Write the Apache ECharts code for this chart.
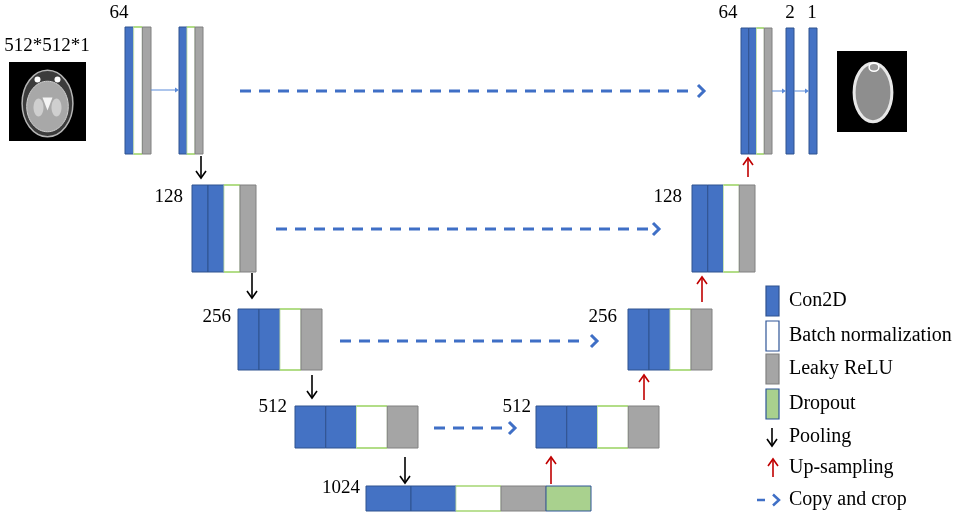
<!DOCTYPE html>
<html>
<head>
<meta charset="utf-8" />
<title>U-Net</title>
<script src="https://cdn.jsdelivr.net/npm/echarts@6/dist/echarts.min.js"></script>
<style>
html, body { margin: 0; padding: 0; background: #fff; }
#unet { width: 957px; height: 514px; }
</style>
</head>
<body>
<div id="unet"></div>
<script>
// ---- layers along the U (axis units = picture pixels) ----
var layerParts = [
	['conv', 'bn', 'relu'], ['conv', 'bn', 'relu'],
	['conv', 'conv', 'bn', 'relu'], ['conv', 'conv', 'bn', 'relu'], ['conv', 'conv', 'bn', 'relu'],
	['conv', 'conv', 'bn', 'relu', 'drop'],
	['conv', 'conv', 'bn', 'relu'], ['conv', 'conv', 'bn', 'relu'], ['conv', 'conv', 'bn', 'relu'],
	['conv', 'conv', 'bn', 'relu'],
	['conv'], ['conv']
];
var layerLeft   = [125, 179, 192, 238, 295, 366, 536, 628, 692, 741, 786, 809];
var layerRight  = [151, 203, 256, 322, 418, 591, 659, 712, 755, 772, 794, 817];
var layerTop    = [27, 27, 185, 309, 406, 486, 406, 309, 185, 28, 28, 28];
var layerBottom = [154, 154, 272, 370, 448, 511, 448, 370, 272, 154, 154, 154];

// ---- channel labels ----
var labelText  = ['512*512*1', '64', '128', '256', '512', '1024', '512', '256', '128', '64', '2', '1'];
var labelX     = [47, 119, 183, 231, 287, 360, 531, 617, 682, 728, 790, 812];
var labelY     = [46, 13, 197, 317, 407, 488, 407, 317, 197, 13, 13, 13];
var labelAlign = ['center', 'center', 'right', 'right', 'right', 'right', 'right', 'right', 'right', 'center', 'center', 'center'];

// ---- arrows ----
var arrowKind = ['pass', 'pool', 'pool', 'pool', 'pool',
	'up', 'up', 'up', 'up',
	'copy', 'copy', 'copy', 'copy',
	'pass', 'pass'];
var arrowX0 = [151, 201, 252, 312, 405, 551, 644, 702, 748, 240, 276, 340, 434, 772, 794];
var arrowY0 = [90, 156, 273, 375, 457, 484, 400, 302, 177, 91, 229, 341, 428, 91, 91];
var arrowX1 = [179, 201, 252, 312, 405, 551, 644, 702, 748, 704, 659, 597, 515, 786, 809];
var arrowY1 = [90, 178, 298, 398, 483, 457, 375, 277, 158, 91, 229, 341, 428, 91, 91];

// ---- input / output slices ----
var sliceName = ['mri', 'ct'];
var sliceX0 = [9, 837];
var sliceX1 = [86, 907];
var sliceY0 = [62, 51];
var sliceY1 = [141, 132];

// ---- legend ----
var legendText = ['Con2D', 'Batch normalization', 'Leaky ReLU', 'Dropout', 'Pooling', 'Up-sampling', 'Copy and crop'];
var legendMark = ['conv', 'bnKey', 'relu', 'drop', 'pool', 'up', 'copy'];
var legendY    = [301, 336, 369, 404, 437, 468, 500];

var FONT = 'Liberation Serif, Times New Roman, serif';

var partStyle = {
	conv:  { fill: '#4472C4', stroke: '#2F528F' },
	bn:    { fill: '#FFFFFF', stroke: '#92D050' },
	relu:  { fill: '#A5A5A5', stroke: '#808080' },
	drop:  { fill: '#A9D18E', stroke: '#2F5597' },
	bnKey: { fill: '#FFFFFF', stroke: '#2F5597' }
};
var arrowStyle = {
	pool: { color: '#000000', width: 1.6, dash: null, head: 7, half: 5, filled: false },
	up:   { color: '#C00000', width: 1.6, dash: null, head: 7, half: 5, filled: false },
	copy: { color: '#3F6FC6', width: 3, dash: [11, 8], head: 6, half: 6, filled: false },
	pass: { color: '#5B8BD9', width: 1, dash: null, head: 4, half: 2.5, filled: true }
};

// parts data: one rect per component
var partData = [];
layerParts.forEach(function (parts, i) {
	var w = (layerRight[i] - layerLeft[i]) / parts.length;
	parts.forEach(function (p, j) {
		partData.push([layerLeft[i] + j * w, layerLeft[i] + (j + 1) * w, layerTop[i], layerBottom[i], i, j]);
	});
});

function arrowShape(a, b, st) {
	var dx = b[0] - a[0], dy = b[1] - a[1];
	var len = Math.sqrt(dx * dx + dy * dy);
	var ux = dx / len, uy = dy / len, px = -uy, py = ux;
	var back = [b[0] - ux * st.head, b[1] - uy * st.head];
	var end = st.filled ? back : (st.dash ? [b[0] - ux * (st.head + 4), b[1] - uy * (st.head + 4)] : [b[0] - ux, b[1] - uy]);
	var kids = [{
		type: 'line',
		shape: { x1: a[0], y1: a[1], x2: end[0], y2: end[1] },
		style: { stroke: st.color, lineWidth: st.width, lineDash: st.dash }
	}];
	var pts = [[back[0] + px * st.half, back[1] + py * st.half], b, [back[0] - px * st.half, back[1] - py * st.half]];
	if (st.filled) {
		kids.push({ type: 'polygon', shape: { points: pts }, style: { fill: st.color } });
	} else {
		kids.push({ type: 'polyline', shape: { points: pts }, style: { stroke: st.color, lineWidth: st.width, fill: null } });
	}
	return kids;
}

var myChart = echarts.init(document.getElementById('unet'), null, { renderer: 'canvas' });
var option = {
	animation: false,
	backgroundColor: '#ffffff',
	grid: { left: 0, right: 0, top: 0, bottom: 0 },
	xAxis: { type: 'value', min: 0, max: 957, show: false },
	yAxis: { type: 'value', min: 0, max: 514, inverse: true, show: false },
	series: [
		{
			// network blocks
			type: 'custom',
			data: partData,
			renderItem: function (params, api) {
				var p0 = api.coord([api.value(0), api.value(2)]);
				var p1 = api.coord([api.value(1), api.value(3)]);
				var kind = layerParts[api.value(4)][api.value(5)];
				var s = partStyle[kind];
				var w = p1[0] - p0[0], h = p1[1] - p0[1];
				if (kind === 'bn') {
					// white part: green only along top and bottom edges
					return {
						type: 'group',
						children: [
							{ type: 'rect', shape: { x: p0[0], y: p0[1], width: w, height: h }, style: { fill: s.fill, stroke: '#C9E3B5', lineWidth: 1 } },
							{ type: 'line', shape: { x1: p0[0], y1: p0[1], x2: p1[0], y2: p0[1] }, style: { stroke: s.stroke, lineWidth: 1.2 } },
							{ type: 'line', shape: { x1: p0[0], y1: p1[1], x2: p1[0], y2: p1[1] }, style: { stroke: s.stroke, lineWidth: 1.2 } }
						]
					};
				}
				return {
					type: 'rect',
					shape: { x: p0[0], y: p0[1], width: w, height: h },
					style: { fill: s.fill, stroke: s.stroke, lineWidth: 1 }
				};
			}
		},
		{
			// arrows
			type: 'custom',
			data: arrowKind.map(function (k, i) { return [arrowX0[i], arrowY0[i], arrowX1[i], arrowY1[i]]; }),
			renderItem: function (params, api) {
				var a = api.coord([api.value(0), api.value(1)]);
				var b = api.coord([api.value(2), api.value(3)]);
				return { type: 'group', children: arrowShape(a, b, arrowStyle[arrowKind[params.dataIndex]]) };
			}
		},
		{
			// input MRI / output CT slices
			type: 'custom',
			data: sliceName.map(function (n, i) { return [sliceX0[i], sliceY0[i], sliceX1[i], sliceY1[i]]; }),
			renderItem: function (params, api) {
				var p0 = api.coord([api.value(0), api.value(1)]);
				var p1 = api.coord([api.value(2), api.value(3)]);
				var w = p1[0] - p0[0], h = p1[1] - p0[1];
				var cx = p0[0] + w / 2, cy = p0[1] + h / 2;
				var kids = [{ type: 'rect', shape: { x: p0[0], y: p0[1], width: w, height: h }, style: { fill: '#000' } }];
				if (sliceName[params.dataIndex] === 'mri') {
					kids.push({ type: 'ellipse', shape: { cx: cx, cy: cy + 2, rx: w * 0.33, ry: h * 0.42 }, style: { fill: '#3c3c3c', stroke: '#b5b5b5', lineWidth: 1.5 } });
					kids.push({ type: 'ellipse', shape: { cx: cx, cy: cy + 5, rx: w * 0.27, ry: h * 0.32 }, style: { fill: '#a8a8a8', stroke: '#d0d0d0', lineWidth: 1 } });
					kids.push({ type: 'ellipse', shape: { cx: cx - 9, cy: cy + 6, rx: 5, ry: 9 }, style: { fill: '#cfcfcf' } });
					kids.push({ type: 'ellipse', shape: { cx: cx + 9, cy: cy + 6, rx: 5, ry: 9 }, style: { fill: '#cfcfcf' } });
					kids.push({ type: 'polygon', shape: { points: [[cx - 5, cy - 4], [cx + 5, cy - 4], [cx, cy + 9]] }, style: { fill: '#f4f4f4' } });
					kids.push({ type: 'circle', shape: { cx: cx - 10, cy: p0[1] + h * 0.22, r: 3 }, style: { fill: '#ffffff' } });
					kids.push({ type: 'circle', shape: { cx: cx + 10, cy: p0[1] + h * 0.22, r: 3 }, style: { fill: '#ffffff' } });
				} else {
					kids.push({ type: 'ellipse', shape: { cx: cx + 1, cy: cy + 1, rx: w * 0.27, ry: h * 0.36 }, style: { fill: '#8e8e8e', stroke: '#e8e8e8', lineWidth: 3 } });
					kids.push({ type: 'ellipse', shape: { cx: cx + 2, cy: p0[1] + h * 0.2, rx: w * 0.07, ry: h * 0.05 }, style: { fill: '#9a9a9a', stroke: '#ffffff', lineWidth: 1.5 } });
				}
				return { type: 'group', children: kids };
			}
		},
		{
			// channel labels
			type: 'custom',
			data: labelText.map(function (t, i) { return [labelX[i], labelY[i]]; }),
			renderItem: function (params, api) {
				var p = api.coord([api.value(0), api.value(1)]);
				return {
					type: 'text',
					x: p[0], y: p[1],
					style: { text: labelText[params.dataIndex], fill: '#000', fontSize: 19, fontFamily: FONT, align: labelAlign[params.dataIndex], verticalAlign: 'middle' }
				};
			}
		},
		{
			// legend
			type: 'custom',
			data: legendText.map(function (t, i) { return [772, legendY[i]]; }),
			renderItem: function (params, api) {
				var i = params.dataIndex;
				var p = api.coord([api.value(0), api.value(1)]);
				var mark = legendMark[i];
				var kids = [];
				if (partStyle[mark]) {
					var s = partStyle[mark];
					kids.push({ type: 'rect', shape: { x: p[0] - 6, y: p[1] - 15, width: 13, height: 30 }, style: { fill: s.fill, stroke: s.stroke, lineWidth: 1.2 } });
				} else if (mark === 'pool') {
					kids = kids.concat(arrowShape([p[0], p[1] - 9], [p[0], p[1] + 9], arrowStyle.pool));
				} else if (mark === 'up') {
					kids = kids.concat(arrowShape([p[0] + 1, p[1] + 9], [p[0] + 1, p[1] - 9], arrowStyle.up));
				} else {
					kids = kids.concat(arrowShape([p[0] - 15, p[1]], [p[0] + 7, p[1]], { color: '#3F6FC6', width: 2.5, dash: [8, 4], head: 6, half: 5.5, filled: false }));
				}
				kids.push({
					type: 'text',
					x: p[0] + 17, y: p[1],
					style: { text: legendText[i], fill: '#000', fontSize: 20, fontFamily: FONT, align: 'left', verticalAlign: 'middle' }
				});
				return { type: 'group', children: kids };
			}
		}
	]
};
myChart.setOption(option);
</script>
</body>
</html>
